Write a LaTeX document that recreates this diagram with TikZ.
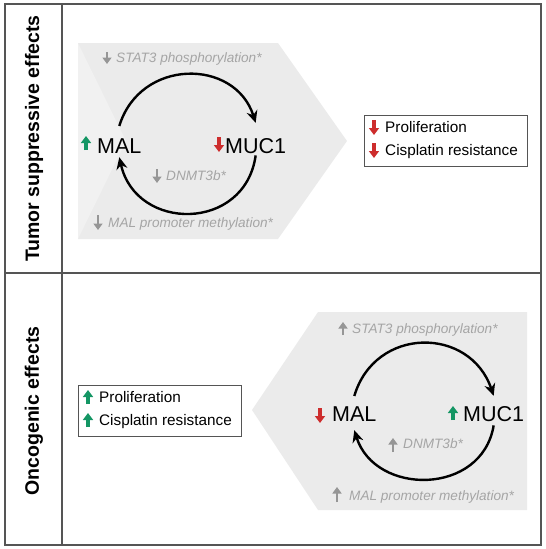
\documentclass[tikz,border=0pt]{standalone}
\usepackage{fontspec}
\setmainfont{Liberation Sans}
\usepackage{xcolor}
\usepackage{tikz}
\usetikzlibrary{arrows.meta}

\definecolor{upgreen}{RGB}{20,150,100}
\definecolor{dnred}{RGB}{205,45,45}
\definecolor{softgray}{RGB}{165,165,165}
\definecolor{tickgray}{RGB}{150,150,150}
\definecolor{panelfill}{RGB}{235,235,235}
\definecolor{notchfill}{RGB}{241,241,241}
\definecolor{framegray}{RGB}{85,85,85}

\begin{document}
\begin{tikzpicture}[
    x=1pt, y=-1pt,
    gene/.style={inner sep=0pt, anchor=base west, font=\fontsize{21.5}{24}\selectfont},
    factor/.style={inner sep=0pt, anchor=base west, text=softgray, font=\fontsize{13.6}{16}\selectfont\itshape},
    effect/.style={inner sep=0pt, anchor=base west, font=\fontsize{15.3}{18}\selectfont},
    resbox/.style={draw=framegray, line width=0.9pt, minimum width=163pt, minimum height=51pt, inner sep=0pt},
    sidelabel/.style={rotate=90, font=\fontsize{19.5}{22}\selectfont\bfseries},
    tick/.style={line width=3.2pt, -{Triangle[width=10pt,length=7pt]}},
    softtick/.style={line width=2.8pt, tickgray, -{Triangle[width=9pt,length=6.5pt]}},
    cycle/.style={line width=2.4pt, -{Stealth[length=12pt,width=11pt]}}
]
\useasboundingbox (0,0) rectangle (546,549);

% Frame
\draw[framegray, line width=1.1pt] (5,4) rectangle (541,545);
\draw[framegray, line width=1.1pt] (62,4) -- (62,545);
\draw[framegray, line width=1.1pt] (5,273) -- (541,273);

\node[sidelabel] (supp) at (34,138.5) {Tumor suppressive effects};
\node[sidelabel] (onco) at (34,411) {Oncogenic effects};

% Upper panel
\fill[panelfill] (78,43) -- (278,43) -- (347,141) -- (278,239) -- (78,239) -- cycle;
\fill[notchfill] (78,43) -- (126,141) -- (78,239) -- cycle;

\node[gene] (mal1) at (97,153) {MAL};
\node[gene] (muc1a) at (225,153) {MUC1};
\node[factor] (stat1) at (116,62) {STAT3 phosphorylation*};
\node[factor] (dnmt1) at (166,180) {DNMT3b*};
\node[factor] (prom1) at (108,227) {MAL promoter methylation*};

\draw[tick, upgreen] ([xshift=-11pt,yshift=3pt]mal1.base west) -- ++(0,-14);
\draw[tick, dnred] ([xshift=-6pt,yshift=16pt]muc1a.base west) -- ++(0,15);
\draw[softtick] ([xshift=-9pt,yshift=10pt]stat1.base west) -- ++(0,12);
\draw[softtick] ([xshift=-9pt,yshift=11pt]dnmt1.base west) -- ++(0,14);
\draw[softtick] ([xshift=-10pt,yshift=12pt]prom1.base west) -- ++(0,15);

\draw[cycle] ([yshift=12pt]mal1.north) .. controls (140,58) and (235,58) .. ([yshift=15pt]muc1a.north);
\draw[cycle] ([yshift=-2pt]muc1a.south) .. controls (245,232) and (136,232) .. ([yshift=-4pt]mal1.south);

\node[resbox] (resA) at (445.5,140.5) {};
\node[effect] (prolA) at (385,132.5) {Proliferation};
\node[effect] (cisA) at (385,155.5) {Cisplatin resistance};
\draw[tick, dnred] ([xshift=-11pt,yshift=12.5pt]prolA.base west) -- ++(0,15);
\draw[tick, dnred] ([xshift=-11pt,yshift=12.5pt]cisA.base west) -- ++(0,15);

% Lower panel
\fill[panelfill] (527,312) -- (318,312) -- (252,410) -- (318,510) -- (527,510) -- cycle;

\node[gene] (mal2) at (332,421) {MAL};
\node[gene] (muc1b) at (463,421) {MUC1};
\node[factor] (stat2) at (352,333) {STAT3 phosphorylation*};
\node[factor] (dnmt2) at (403,448) {DNMT3b*};
\node[factor] (prom2) at (349,500) {MAL promoter methylation*};

\draw[tick, dnred] ([xshift=-12pt,yshift=13pt]mal2.base west) -- ++(0,15);
\draw[tick, upgreen] ([xshift=-10pt,yshift=1pt]muc1b.base west) -- ++(0,-14);
\draw[softtick] ([xshift=-9pt,yshift=-2pt]stat2.base west) -- ++(0,-13);
\draw[softtick] ([xshift=-10pt,yshift=-4pt]dnmt2.base west) -- ++(0,-14);
\draw[softtick] ([xshift=-12pt,yshift=-2pt]prom2.base west) -- ++(0,-15);

\draw[cycle] ([yshift=10pt]mal2.north) .. controls (375,326) and (470,326) .. ([yshift=10pt]muc1b.north);
\draw[cycle] ([yshift=-4pt]muc1b.south) .. controls (482,496) and (375,496) .. ([yshift=-9pt]mal2.south);

\node[resbox] (resB) at (160,411) {};
\node[effect] (prolB) at (99,402.5) {Proliferation};
\node[effect] (cisB) at (99,425.5) {Cisplatin resistance};
\draw[tick, upgreen] ([xshift=-11pt,yshift=-1.5pt]prolB.base west) -- ++(0,-14);
\draw[tick, upgreen] ([xshift=-11pt,yshift=-1.5pt]cisB.base west) -- ++(0,-14);

\end{tikzpicture}
\end{document}
